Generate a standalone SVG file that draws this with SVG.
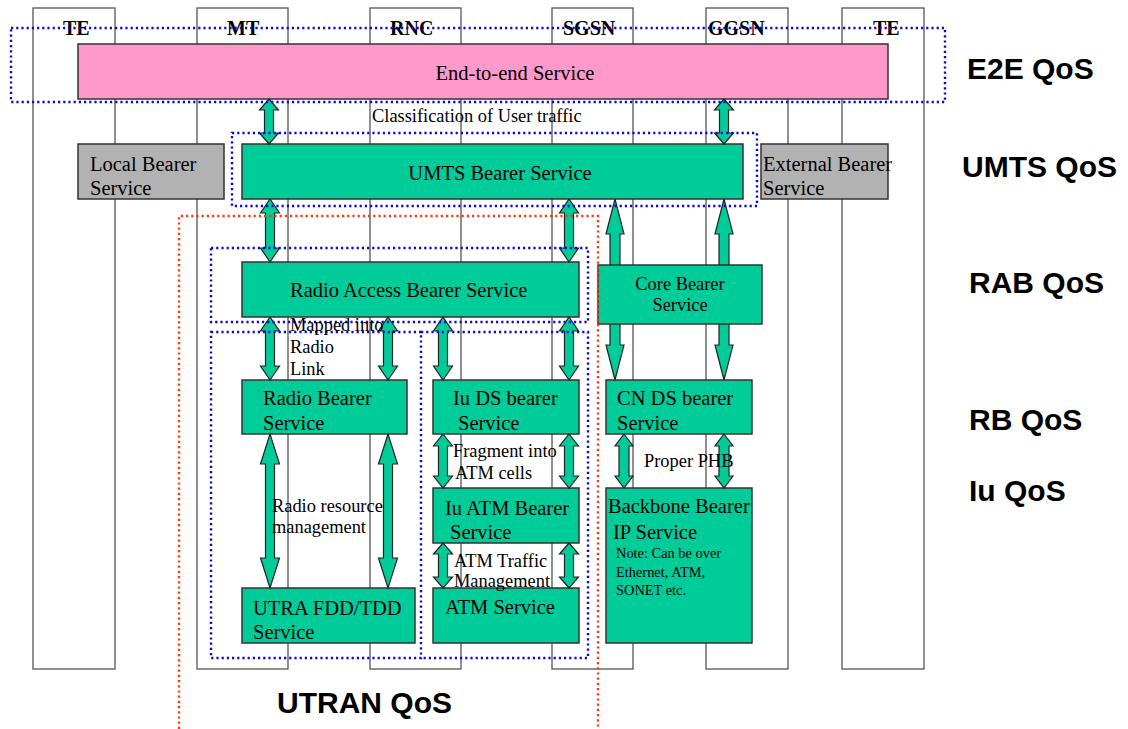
<svg xmlns="http://www.w3.org/2000/svg" width="1128" height="729" viewBox="0 0 1128 729">
<style>
.col{fill:none;stroke:#555;stroke-width:1.3}
.box{stroke:#333;stroke-width:1.5}
.g{fill:#00CC99}
.gray{fill:#B2B2B2}
.pink{fill:#FF99CC}
.arr{fill:#00CC99;stroke:#222;stroke-width:1.2;stroke-linejoin:miter}
.blue{fill:none;stroke:#0A0ADC;stroke-width:2.4;stroke-dasharray:2.2 3}
.red{fill:none;stroke:#FF3A10;stroke-width:2.4;stroke-dasharray:2.2 3}
.t{font-family:"Liberation Serif","Times New Roman",serif;font-size:20.5px;fill:#000}
.s{font-family:"Liberation Serif","Times New Roman",serif;font-size:18.4px;fill:#000}
.n{font-family:"Liberation Serif","Times New Roman",serif;font-size:14.4px;fill:#000}
.h{font-family:"Liberation Serif","Times New Roman",serif;font-size:20px;font-weight:bold;fill:#000}
.q{font-family:"Liberation Sans",Arial,sans-serif;font-size:30px;font-weight:bold;fill:#000}
</style>
<rect width="1128" height="729" fill="#fff"/>
<g id="columns">
<rect class="col" x="33" y="8" width="82" height="661"/>
<rect class="col" x="197" y="8" width="91" height="661"/>
<rect class="col" x="370" y="8" width="91" height="661"/>
<rect class="col" x="552" y="8" width="81" height="661"/>
<rect class="col" x="706" y="8" width="82" height="661"/>
<rect class="col" x="842" y="8" width="82" height="661"/>
<text class="h" x="63" y="35">TE</text>
<text class="h" x="227" y="35">MT</text>
<text class="h" x="390" y="35">RNC</text>
<text class="h" x="563" y="35">SGSN</text>
<text class="h" x="708" y="35">GGSN</text>
<text class="h" x="873" y="35">TE</text>
</g>
<g id="connectors-core">
<polygon class="arr" points="615,199 624,234 620,234 620,345 624,345 615,380 606,345 610,345 610,234 606,234"/>
<polygon class="arr" points="724,199 733,234 729,234 729,345 733,345 724,380 715,345 719,345 719,234 715,234"/>
</g>
<g id="e2e">
<rect class="box pink" x="78" y="44" width="810" height="55"/>
<text class="t" x="515" y="80" text-anchor="middle">End-to-end Service</text>
</g>
<g id="local">
<rect class="box gray" x="78" y="144" width="146" height="55"/>
<text class="t" x="90" y="171">Local Bearer</text>
<text class="t" x="90" y="195">Service</text>
</g>
<g id="umts">
<rect class="box g" x="242" y="144" width="501" height="55"/>
<text class="t" x="500" y="180" text-anchor="middle">UMTS Bearer Service</text>
</g>
<g id="external">
<rect class="box gray" x="761" y="144" width="127" height="55"/>
<text class="t" x="763" y="171">External Bearer</text>
<text class="t" x="763" y="195">Service</text>
</g>
<g id="rab">
<rect class="box g" x="242" y="262" width="337" height="55"/>
<text class="t" x="290" y="297">Radio Access Bearer Service</text>
</g>
<g id="core">
<rect class="box g" x="598" y="265" width="164" height="59"/>
<text class="s" x="680" y="290" text-anchor="middle">Core Bearer</text>
<text class="s" x="680" y="311" text-anchor="middle">Service</text>
</g>
<g id="rb">
<rect class="box g" x="242" y="380" width="165" height="54"/>
<text class="t" x="263" y="405">Radio Bearer</text>
<text class="t" x="263" y="430">Service</text>
</g>
<g id="iuds">
<rect class="box g" x="433" y="380" width="146" height="54"/>
<text class="t" x="453" y="405">Iu DS bearer</text>
<text class="t" x="458" y="430">Service</text>
</g>
<g id="cnds">
<rect class="box g" x="606" y="380" width="146" height="54"/>
<text class="t" x="617" y="405">CN DS bearer</text>
<text class="t" x="617" y="430">Service</text>
</g>
<g id="iuatm">
<rect class="box g" x="433" y="488" width="146" height="55"/>
<text class="t" x="445" y="515">Iu ATM Bearer</text>
<text class="t" x="450" y="539">Service</text>
</g>
<g id="utra">
<rect class="box g" x="242" y="588" width="173" height="55"/>
<text class="t" x="253" y="615">UTRA FDD/TDD</text>
<text class="t" x="253" y="639">Service</text>
</g>
<g id="atm">
<rect class="box g" x="433" y="588" width="146" height="55"/>
<text class="t" x="445" y="614">ATM Service</text>
</g>
<g id="backbone">
<rect class="box g" x="606" y="488" width="146" height="155"/>
<text class="t" x="608" y="513">Backbone Bearer</text>
<text class="t" x="613" y="539">IP Service</text>
<text class="n" x="616" y="558">Note: Can be over</text>
<text class="n" x="616" y="577">Ethernet, ATM,</text>
<text class="n" x="616" y="595">SONET etc.</text>
</g>
<g id="connectors">
<polygon class="arr" points="269,99 278.5,110 273.5,110 273.5,133 278.5,133 269,144 259.5,133 264.5,133 264.5,110 259.5,110"/>
<polygon class="arr" points="724,99 733.5,110 728.5,110 728.5,133 733.5,133 724,144 714.5,133 719.5,133 719.5,110 714.5,110"/>
<polygon class="arr" points="270,199 279.5,213 274.5,213 274.5,248 279.5,248 270,262 260.5,248 265.5,248 265.5,213 260.5,213"/>
<polygon class="arr" points="569,199 578.5,213 573.5,213 573.5,248 578.5,248 569,262 559.5,248 564.5,248 564.5,213 559.5,213"/>
<polygon class="arr" points="270,317 279.5,331 274.5,331 274.5,366 279.5,366 270,380 260.5,366 265.5,366 265.5,331 260.5,331"/>
<polygon class="arr" points="388,317 397.5,331 392.5,331 392.5,366 397.5,366 388,380 378.5,366 383.5,366 383.5,331 378.5,331"/>
<polygon class="arr" points="443,317 452.5,331 447.5,331 447.5,366 452.5,366 443,380 433.5,366 438.5,366 438.5,331 433.5,331"/>
<polygon class="arr" points="569,317 578.5,331 573.5,331 573.5,366 578.5,366 569,380 559.5,366 564.5,366 564.5,331 559.5,331"/>
<polygon class="arr" points="270,434 279.5,464 274.5,464 274.5,558 279.5,558 270,588 260.5,558 265.5,558 265.5,464 260.5,464"/>
<polygon class="arr" points="388,434 397.5,464 392.5,464 392.5,558 397.5,558 388,588 378.5,558 383.5,558 383.5,464 378.5,464"/>
<polygon class="arr" points="443,434 452.5,446 447.5,446 447.5,476 452.5,476 443,488 433.5,476 438.5,476 438.5,446 433.5,446"/>
<polygon class="arr" points="569,434 578.5,446 573.5,446 573.5,476 578.5,476 569,488 559.5,476 564.5,476 564.5,446 559.5,446"/>
<polygon class="arr" points="443,543 452.5,554 447.5,554 447.5,577 452.5,577 443,588 433.5,577 438.5,577 438.5,554 433.5,554"/>
<polygon class="arr" points="569,543 578.5,554 573.5,554 573.5,577 578.5,577 569,588 559.5,577 564.5,577 564.5,554 559.5,554"/>
<polygon class="arr" points="624,434 633,446 629,446 629,476 633,476 624,488 615,476 619,476 619,446 615,446"/>
<polygon class="arr" points="724,434 733,446 729,446 729,476 733,476 724,488 715,476 719,476 719,446 715,446"/>
</g>
<g id="regions">
<rect class="blue" x="11" y="28" width="934" height="74"/>
<rect class="blue" x="232" y="133" width="525" height="73"/>
<rect class="blue" x="211" y="248" width="377" height="74"/>
<rect class="blue" x="211" y="332" width="210" height="326"/>
<path class="blue" d="M421,332 H588 V658 H421"/>
<path class="red" d="M179,729 V216 H598 V729"/>
</g>
<g id="labels">
<text class="s" x="372" y="122">Classification of User traffic</text>
<text class="s" x="290" y="331">Mapped into</text>
<text class="s" x="290" y="353">Radio</text>
<text class="s" x="290" y="375">Link</text>
<text class="s" x="272" y="512">Radio resource</text>
<text class="s" x="272" y="533">management</text>
<text class="s" x="453" y="457">Fragment into</text>
<text class="s" x="455" y="479">ATM cells</text>
<text class="s" x="454" y="567">ATM Traffic</text>
<text class="s" x="454" y="587">Management</text>
<text class="s" x="644" y="467">Proper PHB</text>
<text class="q" x="967" y="79">E2E QoS</text>
<text class="q" x="962" y="177">UMTS QoS</text>
<text class="q" x="969" y="293">RAB QoS</text>
<text class="q" x="969" y="430">RB QoS</text>
<text class="q" x="969" y="501">Iu QoS</text>
<text class="q" x="277" y="713">UTRAN QoS</text>
</g>
</svg>
